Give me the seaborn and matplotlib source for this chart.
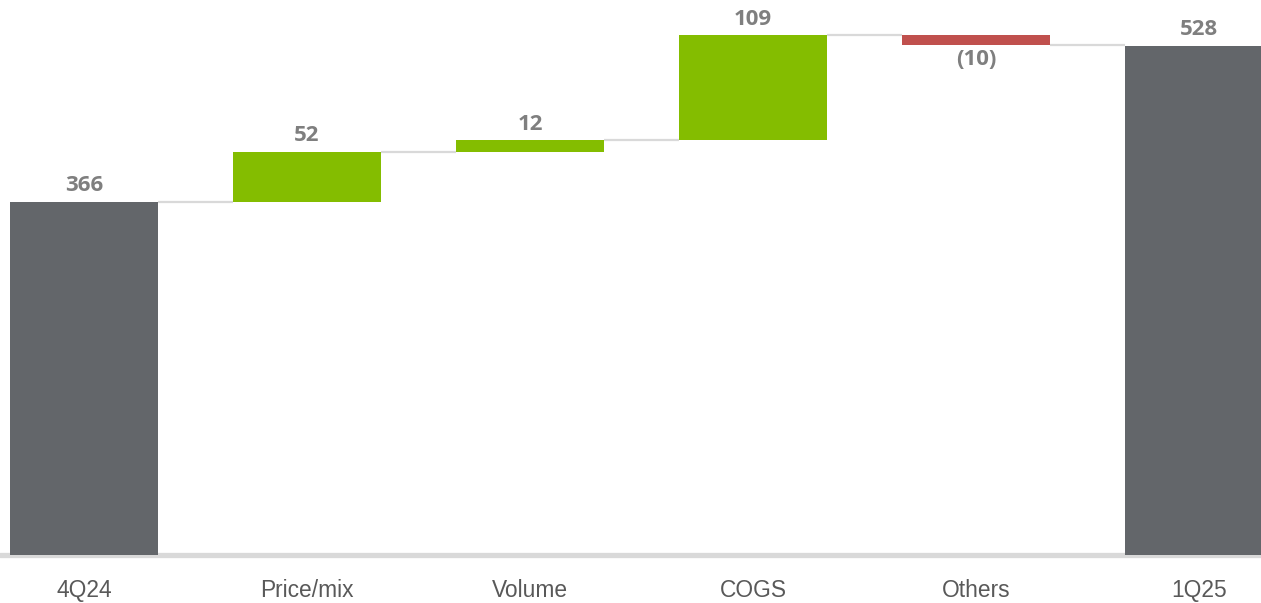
import matplotlib
matplotlib.use("Agg")
import matplotlib.pyplot as plt
import seaborn as sns
import pandas as pd

categories = ["4Q24", "Price/mix", "Volume", "COGS", "Others", "1Q25"]
changes = [366, 52, 12, 109, -10, 528]
kinds = ["total", "delta", "delta", "delta", "delta", "total"]
labels = ["366", "52", "12", "109", "(10)", "528"]

GRAY = "#63666a"
GREEN = "#84bd00"
RED = "#c0504d"
LINE = "#d9d9d9"
TXT = "#7f7f7f"
CAT = "#595959"

# running totals -> bottoms / heights / levels
bottoms, heights, tops, levels = [], [], [], []
run = 0
for k, v in zip(kinds, changes):
    if k == "total":
        b, h = 0, v
        run = v
    else:
        b = run if v >= 0 else run + v
        h = abs(v)
        run = run + v
    bottoms.append(b)
    heights.append(h)
    tops.append(b + h)
    levels.append(run)

colors = [GRAY if k == "total" else (GREEN if v >= 0 else RED)
          for k, v in zip(kinds, changes)]

sns.set_theme(style="white")
plt.rcParams["font.family"] = ["Liberation Sans", "DejaVu Sans"]

fig = plt.figure(figsize=(12.61, 6.03), dpi=100)
ax = fig.add_axes([0, 48 / 603, 1, 555 / 603])

W = 0.664
for i, cat in enumerate(categories):
    df = pd.DataFrame({"cat": [cat], "h": [heights[i]]})
    sns.barplot(data=df, x="cat", y="h", order=categories, color=colors[i],
                bottom=bottoms[i], width=W, saturation=1, ax=ax, zorder=3,
                linewidth=0, errorbar=None)

# connectors
for i in range(len(categories) - 1):
    ax.plot([i + W / 2, i + 1 - W / 2], [levels[i], levels[i]], color=LINE,
            lw=1.6, zorder=2, solid_capstyle="butt")

# baseline
ax.axhline(0, color=LINE, lw=3.8, zorder=1, clip_on=False)

# value labels
for i, lab in enumerate(labels):
    if changes[i] >= 0 or kinds[i] == "total":
        ax.annotate(lab, (i, tops[i]), xytext=(0, 4), textcoords="offset points",
                    ha="center", va="bottom", fontsize=16, fontweight="bold",
                    color=TXT, family=["Open Sans", "DejaVu Sans"])
    else:
        ax.annotate(lab, (i, bottoms[i]), xytext=(0, -3), textcoords="offset points",
                    ha="center", va="top", fontsize=16, fontweight="bold",
                    color=TXT, family=["Open Sans", "DejaVu Sans"])

ax.set_xlim(-0.377, 5.278)
ax.set_ylim(0, 575.4)
ax.set_xlabel("")
ax.set_ylabel("")
ax.set_yticks([])
ax.tick_params(axis="x", length=0, pad=17, labelsize=16.4, labelcolor=CAT)
for t in ax.get_xticklabels():
    t.set_family(["Liberation Sans", "DejaVu Sans"])
for s in ax.spines.values():
    s.set_visible(False)

fig.savefig("out.png", dpi=100)
